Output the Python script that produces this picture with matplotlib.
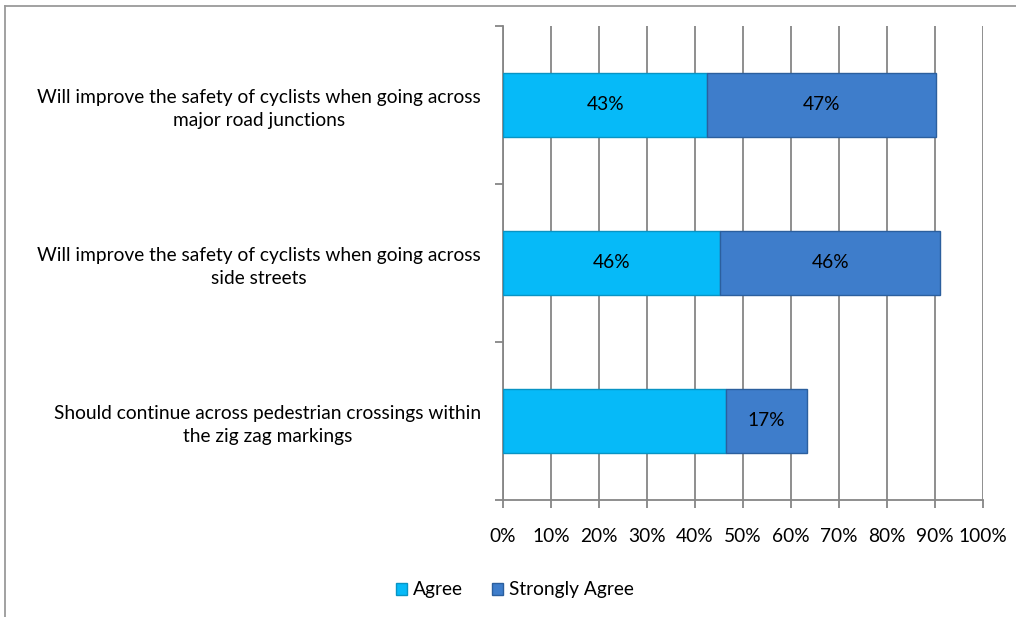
import matplotlib.pyplot as plt
from matplotlib.lines import Line2D

plt.rcParams['font.family'] = ['Lato', 'DejaVu Sans']

# data
statements = [
    'Will improve the safety of cyclists when going across\nmajor road junctions',
    'Will improve the safety of cyclists when going across\nside streets',
    'Should continue across pedestrian crossings within\nthe zig zag markings',
]
agree = [42.6, 45.3, 46.5]
strongly_agree = [47.6, 45.8, 16.8]
agree_labels = ['43%', '46%', '']
strongly_labels = ['47%', '46%', '17%']
xticks = list(range(0, 101, 10))

fs = 13.8
fig = plt.figure(figsize=(10.16, 6.17), dpi=100)
ax = fig.add_axes([503 / 1016, 1 - 500 / 617, 480 / 1016, 474 / 617])

ypos = list(range(len(statements)))
h = 0.41
b1 = ax.barh(ypos, agree, height=h, color='#06BAF8', edgecolor='#0894C4', linewidth=1, zorder=3)
b2 = ax.barh(ypos, strongly_agree, left=agree, height=h, color='#3E7DCB', edgecolor='#2B5F9E',
             linewidth=1, zorder=3)
ax.bar_label(b1, labels=agree_labels, label_type='center', fontsize=fs, color='black')
ax.bar_label(b2, labels=strongly_labels, label_type='center', fontsize=fs, color='black')

ax.set_xlim(0, 100)
ax.set_ylim(2.5, -0.5)
ax.set_xticks(xticks)
ax.set_xticklabels([f'{v}%' for v in xticks], fontsize=fs)
ax.set_yticks(ypos)
ax.set_yticklabels(statements, fontsize=fs, multialignment='center', linespacing=1.4)
ax.set_yticks([-0.5, 0.5, 1.5, 2.5], minor=True)
ax.tick_params(axis='y', which='major', length=0, pad=16)
ax.tick_params(axis='y', which='minor', length=6, color='#868686', width=1.3)
ax.tick_params(axis='x', length=6, color='#868686', width=1.3, pad=14)

ax.grid(axis='x', color='#868686', linewidth=1.3, zorder=0)
ax.set_axisbelow(True)
for s in ['top', 'right']:
    ax.spines[s].set_visible(False)
for s in ['left', 'bottom']:
    ax.spines[s].set_color('#868686')
    ax.spines[s].set_linewidth(1.3)

fig.legend([b1, b2], ['Agree', 'Strongly Agree'], loc='center', bbox_to_anchor=(515 / 1016, 1 - 590 / 617),
           ncol=2, frameon=False, fontsize=fs, handlelength=0.6, handleheight=0.6,
           handletextpad=0.3, columnspacing=1.5)

# outer chart frame (cut off at right and bottom)
fx = 4.5 / 1016
fy = 1 - 5.5 / 617
fig.add_artist(Line2D([fx, 1], [fy, fy], color='#9A9A9A', linewidth=1.3, transform=fig.transFigure))
fig.add_artist(Line2D([fx, fx], [0, fy], color='#9A9A9A', linewidth=1.3, transform=fig.transFigure))

fig.savefig('out.png', dpi=100)
